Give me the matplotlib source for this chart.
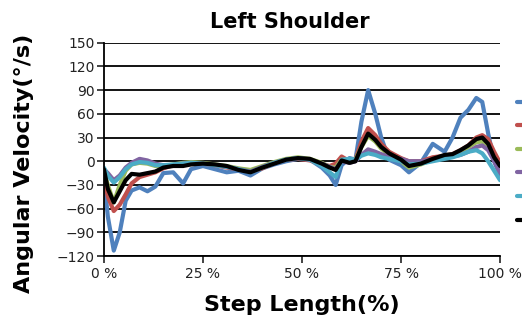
import numpy as np
import matplotlib
matplotlib.use("Agg")
import matplotlib.pyplot as plt

# step length (%) sample positions
x = [0, 1, 2.5, 4, 5.5, 7, 9, 11, 13, 15, 17.5, 20, 22, 25, 28, 31, 34, 37, 40, 43,
     46, 49, 52, 55, 57, 58.5, 60, 62, 63.5, 65, 66.7, 68.5, 70, 72, 75, 77, 80, 83,
     86, 88, 90, 92, 94, 95.5, 97, 98.5, 100]

trial1 = [-20, -70, -113, -90, -50, -37, -33, -38, -32, -15, -14, -28, -10, -6, -10, -14,
          -12, -18, -9, -4, 0, 3, 2, -8, -18, -30, -5, 4, 2, 50, 90, 60, 30, 2, -5, -14,
          -2, 22, 12, 30, 55, 65, 80, 75, 35, 0, -18]
trial2 = [-20, -45, -63, -55, -42, -28, -20, -17, -14, -9, -5, -4, -3, -3, -5, -8, -10,
          -13, -9, -2, 2, 3, 1, -4, -6, -3, 6, 0, 2, 25, 42, 33, 22, 12, 4, 0, 0, 5, 7,
          9, 14, 20, 30, 33, 28, 12, -2]
trial3 = [-12, -30, -52, -30, -12, -4, -2, -3, -6, -6, -4, -2, -1, -2, -4, -6, -9, -11,
          -6, -1, 3, 5, 3, -2, -7, -8, 2, 0, 2, 18, 32, 25, 16, 8, 0, -8, -4, 2, 6, 8,
          12, 18, 24, 25, 18, 2, -10]
trial4 = [-10, -15, -24, -18, -8, -2, 3, 1, -3, -5, -5, -3, -2, -3, -5, -7, -10, -13,
          -7, -2, 2, 4, 2, -3, -7, -10, 0, -2, 0, 8, 15, 12, 9, 6, 3, 0, 0, 2, 4, 6, 8,
          12, 18, 20, 14, 0, -15]
trial5 = [-8, -18, -27, -20, -10, -4, -1, -2, -5, -5, -4, -3, -2, -3, -5, -7, -10, -14,
          -8, -2, 2, 4, 2, -6, -14, -20, 2, 3, 2, 7, 10, 8, 5, 3, 0, -4, -3, 0, 3, 5, 8,
          12, 14, 10, 0, -12, -24]
mean = [-10, -35, -52, -38, -24, -16, -17, -15, -13, -8, -6, -6, -4, -3, -4, -6, -11,
        -14, -8, -3, 2, 4, 3, -3, -8, -11, 1, -2, 0, 18, 35, 27, 18, 10, 2, -6, -3, 3,
        8, 9, 14, 20, 28, 30, 22, 5, -6]

series = [trial1, trial2, trial3, trial4, trial5, mean]
labels = ["Trial 1", "Trial 2", "Trial 3", "Trial 4", "Trial 5", "Mean"]
colors = ["#4F81BD", "#C0504D", "#9BBB59", "#8064A2", "#4BACC6", "#000000"]

fig = plt.figure(figsize=(5.22, 3.23), dpi=100)
ax = fig.add_axes([0.199, 0.207, 0.759, 0.661])

handles = []
for ys, lab, c in zip(series, labels, colors):
    h, = ax.plot(x, ys, color=c, lw=3.0, label=lab, solid_capstyle="round")
    handles.append(h)

ax.set_xlim(0, 100)
ax.set_ylim(-120, 150)
ax.set_yticks(np.arange(-120, 151, 30))
ax.set_xticks([0, 25, 50, 75, 100])
ax.set_xticklabels(["0 %", "25 %", "50 %", "75 %", "100 %"])
ax.yaxis.grid(True, color="black", lw=1.3)
ax.set_axisbelow(True)
for s in ["top", "right"]:
    ax.spines[s].set_visible(False)
ax.spines["left"].set_linewidth(1.3)
ax.spines["bottom"].set_linewidth(1.3)
ax.tick_params(labelsize=10, length=5, width=1.2, colors="#222222")
ax.tick_params(axis="y", pad=1.5)
ax.tick_params(axis="x", pad=3)

fig.text(0.556, 0.933, "Left Shoulder", ha="center", va="center",
         fontsize=15, fontweight="bold")
fig.text(0.578, 0.057, "Step Length(%)", ha="center", va="center",
         fontsize=16, fontweight="bold")
fig.text(0.046, 0.495, "Angular Velocity(°/s)", ha="center", va="center",
         rotation=90, fontsize=16, fontweight="bold")

# legend sits mostly off the right edge, only the handle stubs show
fig.legend(handles, [""] * len(handles), loc="center left",
           bbox_to_anchor=(0.968, 0.5), frameon=False,
           handlelength=1.2, labelspacing=0.85, fontsize=9)

fig.savefig("out.png", dpi=100)
